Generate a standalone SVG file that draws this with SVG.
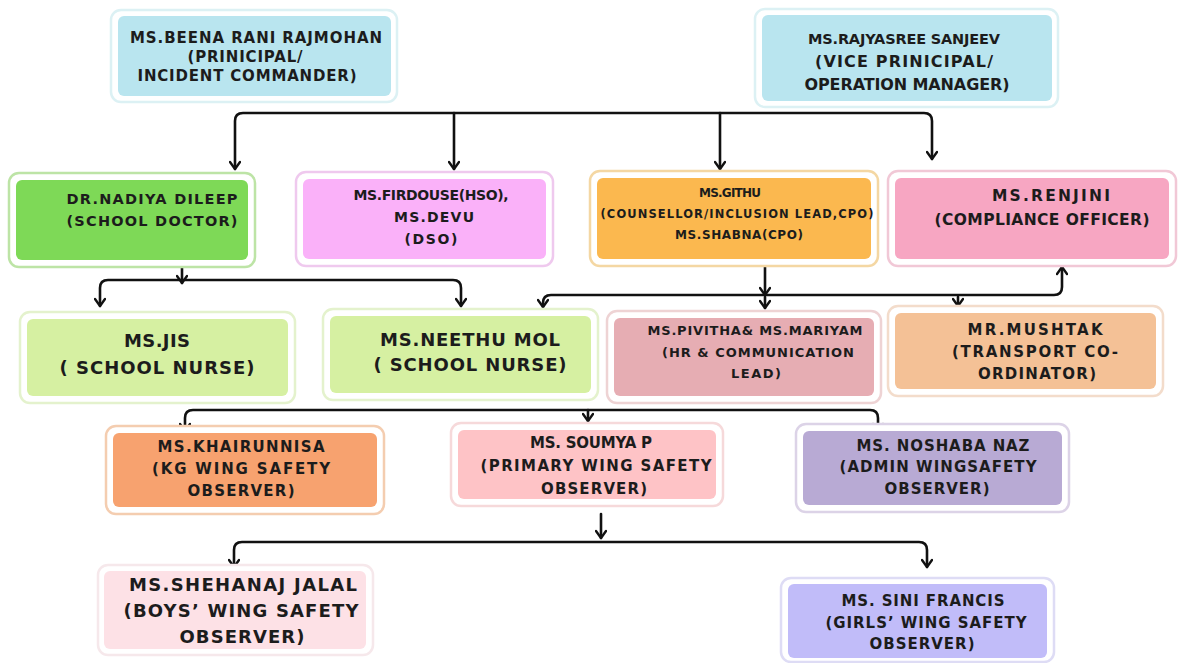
<svg xmlns="http://www.w3.org/2000/svg" width="1178" height="663" viewBox="0 0 1178 663">
<defs>
<marker id="ah" viewBox="0 0 12 12" refX="10" refY="6" markerWidth="12" markerHeight="12" markerUnits="userSpaceOnUse" orient="auto-start-reverse">
<path d="M3,1 L10,6 L3,11" fill="none" stroke="#111" stroke-width="2.4" stroke-linecap="round" stroke-linejoin="round"/>
</marker>
</defs>
<style>
.o{fill:#fff;stroke-width:2.5}
.i{stroke:none}
text{font-family:"DejaVu Sans","Liberation Sans",sans-serif;font-weight:700;fill:#1c1c1c;text-anchor:middle}
.c{fill:none;stroke:#111;stroke-width:2.6;stroke-linecap:round;stroke-linejoin:round}
</style>
<rect width="1178" height="663" fill="#fff"/>

<g id="connectors">
<path class="c" d="M235,169 V121 Q235,113 243,113 H924 Q932,113 932,121 V159" marker-start="url(#ah)" marker-end="url(#ah)"/>
<path class="c" d="M454,113 V169" marker-end="url(#ah)"/>
<path class="c" d="M720,113 V169" marker-end="url(#ah)"/>
<path class="c" d="M182,267 V283" marker-end="url(#ah)"/>
<path class="c" d="M100,306 V288 Q100,280 108,280 H453 Q461,280 461,288 V306" marker-start="url(#ah)" marker-end="url(#ah)"/>
<path class="c" d="M765,266 V295" marker-end="url(#ah)"/>
<path class="c" d="M765,297 V308" marker-end="url(#ah)"/>
<path class="c" d="M543,307 V303 Q543,295 551,295 H1054 Q1062,295 1062,287 V267" marker-start="url(#ah)" marker-end="url(#ah)"/>
<path class="c" d="M958,297 V306" marker-end="url(#ah)"/>
<path class="c" d="M185,431 V418 Q185,410 193,410 H870 Q878,410 878,418 V431" marker-start="url(#ah)" marker-end="url(#ah)"/>
<path class="c" d="M588,410 V421" marker-end="url(#ah)"/>
<path class="c" d="M601,514 V538" marker-end="url(#ah)"/>
<path class="c" d="M234,567 V550 Q234,542 242,542 H919 Q927,542 927,550 V567" marker-start="url(#ah)" marker-end="url(#ah)"/>
</g>

<g id="n-principal">
<rect class="o" x="111" y="10" width="286" height="92" rx="10" stroke="#dcf1f4"/>
<rect class="i" x="118" y="16" width="273" height="80" rx="6" fill="#b9e5ef"/>
<text x="256" y="43" font-size="15" textLength="252" lengthAdjust="spacing">MS.BEENA RANI RAJMOHAN</text>
<text x="245" y="62" font-size="15" textLength="115" lengthAdjust="spacing">(PRINICIPAL/</text>
<text x="247" y="81" font-size="15" textLength="219" lengthAdjust="spacing">INCIDENT COMMANDER)</text>
</g>

<g id="n-vice">
<rect class="o" x="755" y="9" width="303" height="98" rx="10" stroke="#dcf1f4"/>
<rect class="i" x="762" y="15" width="290" height="86" rx="6" fill="#b9e5ef"/>
<text x="904" y="44" font-size="14.5" textLength="192" lengthAdjust="spacing">MS.RAJYASREE SANJEEV</text>
<text x="904" y="67" font-size="16" textLength="178" lengthAdjust="spacing">(VICE PRINICIPAL/</text>
<text x="907" y="90" font-size="16" textLength="205" lengthAdjust="spacing">OPERATION MANAGER)</text>
</g>

<g id="n-doctor">
<rect class="o" x="9" y="173" width="246" height="94" rx="10" stroke="#bde4a6"/>
<rect class="i" x="16" y="180" width="232" height="80" rx="6" fill="#7ed957"/>
<text x="152" y="204" font-size="14.5" textLength="171" lengthAdjust="spacing">DR.NADIYA DILEEP</text>
<text x="152" y="226" font-size="14.5" textLength="171" lengthAdjust="spacing">(SCHOOL DOCTOR)</text>
</g>

<g id="n-hso">
<rect class="o" x="296" y="172" width="257" height="94" rx="10" stroke="#efc9ee"/>
<rect class="i" x="303" y="179" width="243" height="80" rx="6" fill="#fab1f9"/>
<text x="431" y="200" font-size="14" textLength="155" lengthAdjust="spacing">MS.FIRDOUSE(HSO),</text>
<text x="434" y="222" font-size="14" textLength="80" lengthAdjust="spacing">MS.DEVU</text>
<text x="431" y="244" font-size="14" textLength="53" lengthAdjust="spacing">(DSO)</text>
</g>

<g id="n-githu">
<rect class="o" x="590" y="171" width="288" height="95" rx="10" stroke="#f4d7a3"/>
<rect class="i" x="597" y="178" width="274" height="81" rx="6" fill="#fbb84f"/>
<text x="730" y="197" font-size="12" textLength="62" lengthAdjust="spacing">MS.GITHU</text>
<text x="737" y="218" font-size="11.5" textLength="273" lengthAdjust="spacing">(COUNSELLOR/INCLUSION LEAD,CPO)</text>
<text x="739" y="239" font-size="12" textLength="128" lengthAdjust="spacing">MS.SHABNA(CPO)</text>
</g>

<g id="n-renjini">
<rect class="o" x="888" y="171" width="288" height="95" rx="10" stroke="#f1c8d6"/>
<rect class="i" x="895" y="178" width="274" height="81" rx="6" fill="#f7a6c2"/>
<text x="1051" y="201" font-size="15.5" textLength="118" lengthAdjust="spacing">MS.RENJINI</text>
<text x="1042" y="225" font-size="15.5" textLength="215" lengthAdjust="spacing">(COMPLIANCE OFFICER)</text>
</g>

<g id="n-jis">
<rect class="o" x="20" y="312" width="275" height="91" rx="10" stroke="#e4f2cd"/>
<rect class="i" x="27" y="319" width="261" height="77" rx="6" fill="#d6f0a2"/>
<text x="157" y="347" font-size="18" textLength="66" lengthAdjust="spacing">MS.JIS</text>
<text x="157" y="374" font-size="18" textLength="195" lengthAdjust="spacing">( SCHOOL NURSE)</text>
</g>

<g id="n-neethu">
<rect class="o" x="323" y="309" width="275" height="91" rx="10" stroke="#e4f2cd"/>
<rect class="i" x="330" y="316" width="261" height="77" rx="6" fill="#d6f0a2"/>
<text x="470" y="346" font-size="18" textLength="180" lengthAdjust="spacing">MS.NEETHU MOL</text>
<text x="470" y="371" font-size="18" textLength="193" lengthAdjust="spacing">( SCHOOL NURSE)</text>
</g>

<g id="n-pivitha">
<rect class="o" x="607" y="311" width="274" height="92" rx="10" stroke="#eed3d4"/>
<rect class="i" x="614" y="318" width="260" height="78" rx="6" fill="#e6adb3"/>
<text x="755" y="335" font-size="13" textLength="215" lengthAdjust="spacing">MS.PIVITHA&amp; MS.MARIYAM</text>
<text x="758" y="357" font-size="13" textLength="192" lengthAdjust="spacing">(HR &amp; COMMUNICATION</text>
<text x="756" y="378" font-size="13" textLength="50" lengthAdjust="spacing">LEAD)</text>
</g>

<g id="n-mushtak">
<rect class="o" x="888" y="306" width="275" height="90" rx="10" stroke="#f3dccb"/>
<rect class="i" x="895" y="313" width="261" height="76" rx="6" fill="#f4c196"/>
<text x="1035" y="335" font-size="15" textLength="135" lengthAdjust="spacing">MR.MUSHTAK</text>
<text x="1035" y="357" font-size="15" textLength="166" lengthAdjust="spacing">(TRANSPORT CO-</text>
<text x="1037" y="379" font-size="15" textLength="118" lengthAdjust="spacing">ORDINATOR)</text>
</g>

<g id="n-khairunnisa">
<rect class="o" x="106" y="426" width="278" height="88" rx="10" stroke="#f4cdb0"/>
<rect class="i" x="113" y="433" width="264" height="74" rx="6" fill="#f7a26f"/>
<text x="241" y="452" font-size="15" textLength="167" lengthAdjust="spacing">MS.KHAIRUNNISA</text>
<text x="241" y="474" font-size="15" textLength="178" lengthAdjust="spacing">(KG WING SAFETY</text>
<text x="241" y="496" font-size="15" textLength="107" lengthAdjust="spacing">OBSERVER)</text>
</g>

<g id="n-soumya">
<rect class="o" x="451" y="423" width="272" height="83" rx="10" stroke="#f6d9da"/>
<rect class="i" x="458" y="430" width="258" height="69" rx="6" fill="#fec3c6"/>
<text x="591" y="448" font-size="15" textLength="122" lengthAdjust="spacing">MS. SOUMYA P</text>
<text x="596" y="471" font-size="15" textLength="231" lengthAdjust="spacing">(PRIMARY WING SAFETY</text>
<text x="594" y="494" font-size="15" textLength="106" lengthAdjust="spacing">OBSERVER)</text>
</g>

<g id="n-noshaba">
<rect class="o" x="796" y="424" width="273" height="88" rx="10" stroke="#dcd3e7"/>
<rect class="i" x="803" y="431" width="259" height="74" rx="6" fill="#b8aad4"/>
<text x="943" y="451" font-size="15" textLength="173" lengthAdjust="spacing">MS. NOSHABA NAZ</text>
<text x="938" y="472" font-size="15" textLength="197" lengthAdjust="spacing">(ADMIN WINGSAFETY</text>
<text x="937" y="494" font-size="15" textLength="105" lengthAdjust="spacing">OBSERVER)</text>
</g>

<g id="n-shehanaj">
<rect class="o" x="98" y="565" width="275" height="90" rx="10" stroke="#f6e8eb"/>
<rect class="i" x="104" y="571" width="262" height="78" rx="6" fill="#fde1e6"/>
<text x="243" y="591" font-size="18" textLength="228" lengthAdjust="spacing">MS.SHEHANAJ JALAL</text>
<text x="241" y="617" font-size="18" textLength="235" lengthAdjust="spacing">(BOYS’ WING SAFETY</text>
<text x="242" y="643" font-size="18" textLength="125" lengthAdjust="spacing">OBSERVER)</text>
</g>

<g id="n-sini">
<rect class="o" x="781" y="578" width="273" height="84" rx="10" stroke="#dedcf5"/>
<rect class="i" x="788" y="584" width="259" height="74" rx="6" fill="#c1bcf9"/>
<text x="923" y="606" font-size="15" textLength="163" lengthAdjust="spacing">MS. SINI FRANCIS</text>
<text x="926" y="628" font-size="15" textLength="201" lengthAdjust="spacing">(GIRLS’ WING SAFETY</text>
<text x="922" y="649" font-size="15" textLength="105" lengthAdjust="spacing">OBSERVER)</text>
</g>
</svg>
